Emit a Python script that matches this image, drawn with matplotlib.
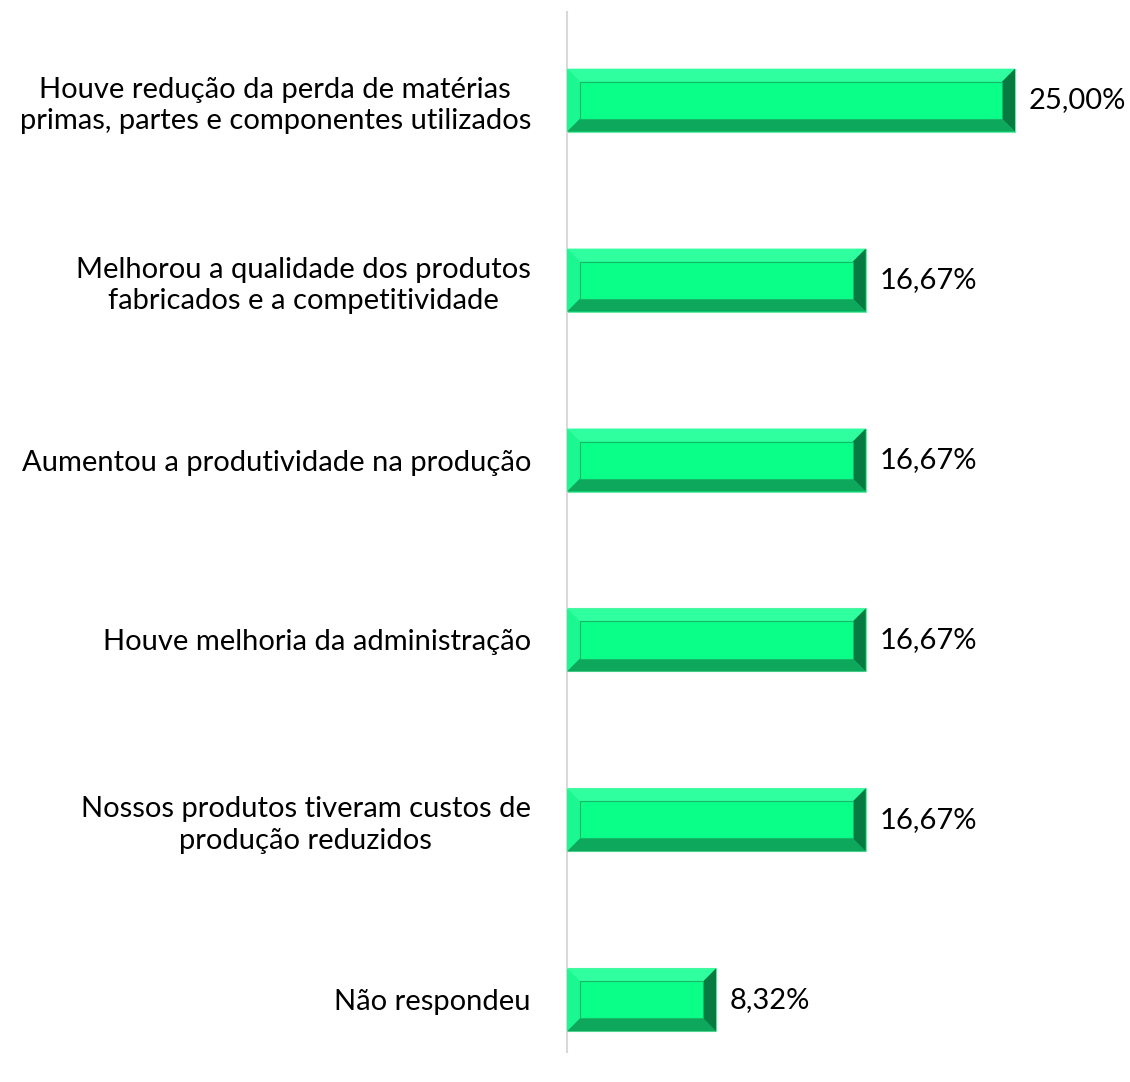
import matplotlib
matplotlib.use("Agg")
import matplotlib.pyplot as plt
from matplotlib.patches import Polygon

categories = [
    "Houve redução da perda de matérias\nprimas, partes e componentes utilizados",
    "Melhorou a qualidade dos produtos\nfabricados e a competitividade",
    "Aumentou a produtividade na produção",
    "Houve melhoria da administração",
    "Nossos produtos tiveram custos de\nprodução reduzidos",
    "Não respondeu",
]
values = [25.00, 16.67, 16.67, 16.67, 16.67, 8.32]
value_labels = ["25,00%", "16,67%", "16,67%", "16,67%", "16,67%", "8,32%"]

plt.rcParams["font.family"] = ["Lato", "DejaVu Sans"]

fig = plt.figure(figsize=(11.3, 10.82), dpi=100)
ax = fig.add_axes([0.5018, 0.0277, 0.4757, 0.9612])

pos = list(range(len(values)))
h = 0.35
face = "#0AFF88"
ax.barh(pos, values, height=h, color=face, edgecolor="#6EE8A8", linewidth=0.8, zorder=2)

# bevel look: light top/left, dark bottom/right
dx = 0.72
dy = 0.072
for y, v in zip(pos, values):
    x0, x1 = 0, v
    top, bot = y - h / 2, y + h / 2
    ix0, ix1 = x0 + dx, x1 - dx
    itop, ibot = top + dy, bot - dy
    ax.add_patch(Polygon([(x0, top), (x1, top), (ix1, itop), (ix0, itop)],
                         closed=True, color="#30FFA0", lw=0, zorder=3))
    ax.add_patch(Polygon([(x0, top), (ix0, itop), (ix0, ibot), (x0, bot)],
                         closed=True, color="#1CF891", lw=0, zorder=3))
    ax.add_patch(Polygon([(x0, bot), (ix0, ibot), (ix1, ibot), (x1, bot)],
                         closed=True, color="#0DA85B", lw=0, zorder=3))
    ax.add_patch(Polygon([(x1, top), (x1, bot), (ix1, ibot), (ix1, itop)],
                         closed=True, color="#067A40", lw=0, zorder=3))
    ax.add_patch(Polygon([(ix0, itop), (ix1, itop), (ix1, ibot), (ix0, ibot)],
                         closed=True, facecolor=face, edgecolor="#14B866", lw=0.8, zorder=4))

for y, v, lab in zip(pos, values, value_labels):
    ax.text(v + 0.75, y, lab, va="center", ha="left", fontsize=21, color="#000000")

ax.set_xlim(0, 30)
ax.set_ylim(5.29, -0.49)
ax.set_yticks(pos)
ax.set_yticklabels(categories, fontsize=21, multialignment="center", linespacing=1.25)
ax.tick_params(axis="y", length=0, pad=26)
ax.set_xticks([])
for s in ["top", "right", "bottom"]:
    ax.spines[s].set_visible(False)
ax.spines["left"].set_color("#D9D9D9")
ax.spines["left"].set_linewidth(1.5)

plt.savefig("out.png", dpi=100)
